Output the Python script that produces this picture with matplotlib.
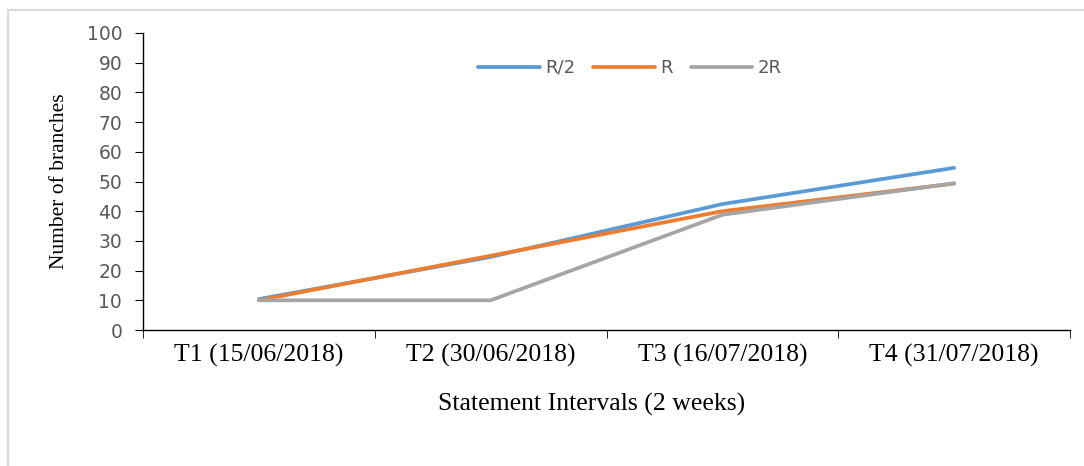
import numpy as np
import matplotlib.pyplot as plt
from matplotlib.patches import Rectangle

categories = ['T1 (15/06/2018)', 'T2 (30/06/2018)', 'T3 (16/07/2018)', 'T4 (31/07/2018)']
r_half = [10.4, 24.6, 42.4, 54.6]
r_full = [10.0, 25.0, 40.0, 49.3]
r_double = [10.0, 10.0, 38.8, 49.4]
y_ticks = list(range(0, 101, 10))

fig = plt.figure(figsize=(10.84, 4.66), dpi=100)
fig.patches.append(Rectangle((8 / 1084, -0.1), 1.2, 1 - 10 / 466 + 0.1, transform=fig.transFigure,
                             fill=False, edgecolor='#d9d9d9', linewidth=1.5))

ax = fig.add_axes([143 / 1084, 1 - 330 / 466, (1070 - 143) / 1084, (330 - 33) / 466])
x = np.arange(len(categories))
ax.plot(x, r_half, color='#5B9BD5', lw=2.7, label='R/2', solid_capstyle='round')
ax.plot(x, r_full, color='#ED7D31', lw=2.7, label='R', solid_capstyle='round')
ax.plot(x, r_double, color='#A5A5A5', lw=2.7, label='2R', solid_capstyle='round')

ax.set_xlim(-0.5, len(categories) - 0.5)
ax.set_ylim(0, 100)
ax.set_yticks(y_ticks)
ax.set_yticklabels([str(v) for v in y_ticks], fontfamily='DejaVu Sans', fontsize=13.5, color='#595959')
ax.set_xticks(x)
ax.set_xticklabels(categories, fontfamily='Liberation Serif', fontsize=18.5)
ax.set_xticks(np.arange(-0.5, len(categories)), minor=True)
ax.tick_params(axis='x', which='major', length=0, pad=10)
ax.tick_params(axis='x', which='minor', length=6, direction='out')
ax.tick_params(axis='y', length=6, direction='out', pad=9)
for s in ['top', 'right']:
    ax.spines[s].set_visible(False)
for s in ['left', 'bottom']:
    ax.spines[s].set_color('black')
    ax.spines[s].set_linewidth(1)

leg = ax.legend(loc='center', bbox_to_anchor=((630 - 143) / (1070 - 143), (330 - 68) / (330 - 33)),
                ncol=3, frameon=False, handlelength=3.4, handletextpad=0.3, columnspacing=1.0,
                prop={'family': 'DejaVu Sans', 'size': 13})
for t in leg.get_texts():
    t.set_color('#595959')

fig.text(60 / 1084, 1 - 181 / 466, 'Number of branches', rotation=90, ha='center', va='center',
         fontfamily='Liberation Serif', fontsize=15.5)
fig.text(592 / 1084, 1 - 404 / 466, 'Statement Intervals (2 weeks)', ha='center', va='center',
         fontfamily='Liberation Serif', fontsize=18.5)

fig.savefig('out.png', dpi=100)
